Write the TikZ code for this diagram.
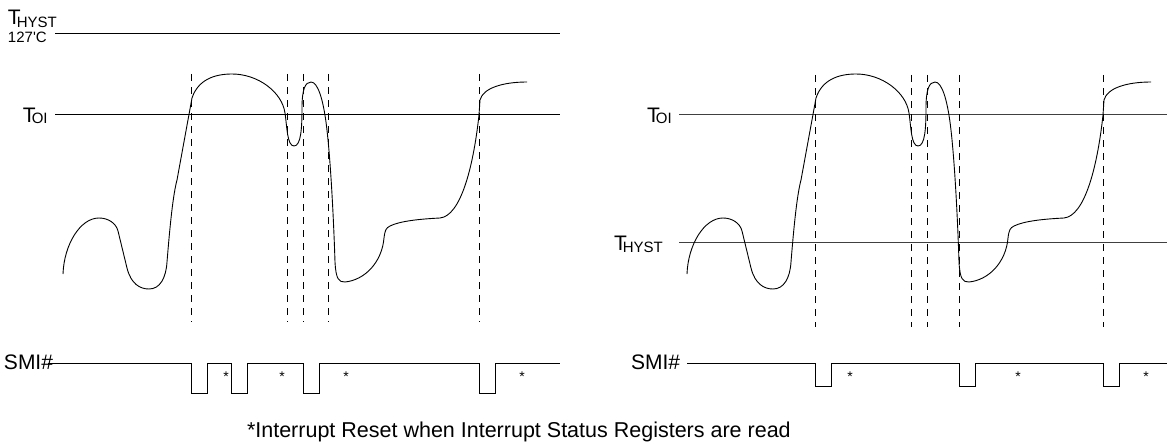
\documentclass[tikz,border=0pt]{standalone}
\usepackage{fontspec}
\setmainfont{Liberation Sans}
\usetikzlibrary{positioning}
\tikzset{
    % Plain text nodes
    every node/.style={inner sep=0pt, outer sep=0pt},
    % Threshold line style
    level/.style={
        line width=1pt,
        color=black
    },
    % Event marker style
    marker/.style={
        line width=0.9pt,
        dash pattern=on 7pt off 6pt
    },
    % Temperature curve style
    signal/.style={
        line width=0.9pt,
        line join=round
    },
    % SMI# output style
    smiline/.style={
        line width=1pt
    },
    % Label styles
    biglabel/.style={
        anchor=base west,
        font=\fontsize{21}{21}\selectfont
    },
    sublabel/.style={
        anchor=base west,
        font=\fontsize{15}{15}\selectfont
    },
    star/.style={
        anchor=base,
        font=\fontsize{14}{14}\selectfont
    },
    % Temperature curve
    tempcurve/.pic={
        \draw[signal] (63,274) .. controls (64,245) and (80,218) .. (99,218)
            .. controls (108,218) and (116,223) .. (118,231)
            -- (127,268)
            .. controls (131,284) and (140,289) .. (149,289)
            .. controls (160,289) and (166,278) .. (167,262)
            .. controls (170,225) and (173,195) .. (177,180)
            -- (192,98)
            .. controls (198,80) and (214,74) .. (232,74)
            .. controls (258,74) and (282,92) .. (285,113)
            .. controls (287,126) and (287,146) .. (294,146)
            .. controls (301,146) and (302,128) .. (302,108)
            .. controls (302,90) and (305,82) .. (311,82)
            .. controls (318,82) and (323,100) .. (326,122)
            .. controls (331,160) and (334,230) .. (335,262)
            .. controls (336,280) and (339,282) .. (345,282)
            .. controls (365,280) and (382,262) .. (384,238)
            .. controls (385,230) and (386,228) .. (390,226)
            .. controls (400,221) and (420,219) .. (440,218)
            .. controls (460,216) and (473,170) .. (479,115)
            -- (480,100)
            .. controls (483,88) and (503,82) .. (527,82);
    }
}

\begin{document}
\begin{tikzpicture}[x=1pt, y=-1pt]
    \useasboundingbox (0,0) rectangle (1167,444);

    % Left: threshold labels
    \node[biglabel] (thystL) at (8,25) {T};
    \node[sublabel] (hystL) at ([xshift=-4pt, yshift=-3pt]thystL.base east) {HYST};
    \node[sublabel] (degL) at (8,43) {127\textquotesingle C};
    \node[biglabel] (toiL) at (23,122) {T};
    \node[sublabel] (oiL) at ([xshift=-4pt, yshift=-1pt]toiL.base east) {OI};

    \draw[level] (55,34) -- (560,34);
    \draw[level] (55,114) -- (560,114);

    \foreach \x in {191,287,303,328,479}
        \draw[marker] (\x,74) -- (\x,322);

    \pic at (0,0) {tempcurve};

    % Left: SMI# output
    \node[biglabel] (smiL) at (4,369) {SMI\#};
    \draw[smiline] (48,363) -- (191,363) -- (191,393) -- (207,393) -- (207,363)
        -- (231,363) -- (231,393) -- (247,393) -- (247,363)
        -- (303,363) -- (303,393) -- (319,393) -- (319,363)
        -- (479,363) -- (479,393) -- (495,393) -- (495,363) -- (560,363);
    \foreach \x [count=\i] in {226,282,346,522}
        \node[star] (starL\i) at (\x,381) {*};

    % Right: threshold labels
    \node[biglabel] (toiR) at (647,122) {T};
    \node[sublabel] (oiR) at ([xshift=-4pt, yshift=-1pt]toiR.base east) {OI};
    \node[biglabel] (thystR) at (614,250) {T};
    \node[sublabel] (hystR) at ([xshift=-4pt, yshift=-2pt]thystR.base east) {HYST};

    \draw[level, black!75] (679,114) -- (1167,114);
    \draw[level, black!75] (679,242) -- (1167,242);

    \foreach \x in {815,911,927,959,1103}
        \draw[marker] (\x,75) -- (\x,327);

    \pic at (624,0) {tempcurve};

    % Right: SMI# output
    \node[biglabel] (smiR) at (631,369) {SMI\#};
    \draw[smiline] (687,363) -- (815,363) -- (815,386) -- (831,386) -- (831,363)
        -- (959,363) -- (959,386) -- (975,386) -- (975,363)
        -- (1103,363) -- (1103,386) -- (1119,386) -- (1119,363) -- (1167,363);
    \foreach \x [count=\i] in {850,1018,1146}
        \node[star] (starR\i) at (\x,381) {*};

    % Footnote
    \node[biglabel, font=\fontsize{21.5}{21.5}\selectfont] (note) at (247,437) {*Interrupt Reset when Interrupt Status Registers are read};
\end{tikzpicture}
\end{document}
